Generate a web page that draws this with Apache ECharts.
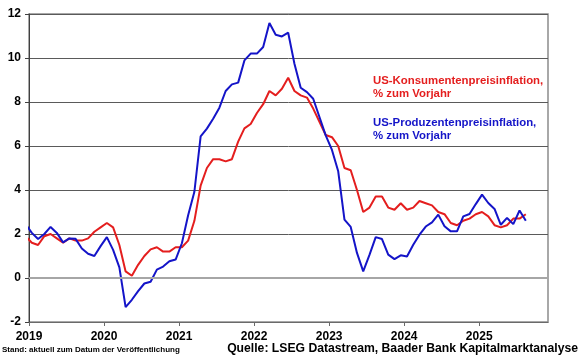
<!DOCTYPE html>
<html><head><meta charset="utf-8">
<script src="https://cdn.jsdelivr.net/npm/echarts@6/dist/echarts.min.js"></script>
<style>html,body{margin:0;padding:0;background:#fff}#c{width:580px;height:358px}</style>
</head><body><div id="c"></div>
<script>
// Monthly observations, Dec 2018 .. Aug 2025 (first point is clipped at the axis)
const firstMonth = [2018, 12];
const cpi = [1.9,
  1.6,1.5,1.9,2.0,1.8,1.6,1.8,1.7,1.7,1.8,2.1,2.3,
  2.5,2.3,1.5,0.3,0.1,0.6,1.0,1.3,1.4,1.2,1.2,1.4,
  1.4,1.7,2.6,4.2,5.0,5.4,5.4,5.3,5.4,6.2,6.8,7.0,
  7.5,7.9,8.5,8.3,8.6,9.1,8.5,8.3,8.2,7.7,7.1,6.5,
  6.4,6.0,5.0,4.9,4.0,3.0,3.2,3.7,3.7,3.2,3.1,3.4,
  3.1,3.2,3.5,3.4,3.3,3.0,2.9,2.5,2.4,2.6,2.7,2.9,
  3.0,2.8,2.4,2.3,2.4,2.7,2.7,2.9];
const ppi = [2.45,
  2.05,1.77,2.0,2.32,2.05,1.62,1.8,1.78,1.34,1.1,1.0,1.45,
  1.86,1.28,0.48,-1.32,-0.99,-0.6,-0.25,-0.17,0.38,0.52,0.76,0.84,
  1.58,2.85,3.92,6.44,6.79,7.24,7.74,8.5,8.8,8.88,9.89,10.2,
  10.2,10.5,11.59,11.06,10.98,11.15,9.74,8.65,8.45,8.15,7.32,6.48,
  5.82,4.85,2.65,2.32,1.14,0.3,1.05,1.86,1.77,1.06,0.86,1.03,
  0.98,1.51,1.97,2.34,2.53,2.88,2.35,2.12,2.12,2.8,2.91,3.36,
  3.79,3.41,3.14,2.42,2.73,2.45,3.07,2.6];
const yearLabels = ['2019','2020','2021','2022','2023','2024','2025'];
const yTicks = [-2,0,2,4,6,8,10,12];
const cpiName = 'US-Konsumentenpreisinflation,\n% zum Vorjahr';
const ppiName = 'US-Produzentenpreisinflation,\n% zum Vorjahr';
const footLeft = 'Stand: aktuell zum Datum der Veröffentlichung';
const footRight = 'Quelle: LSEG Datastream, Baader Bank Kapitalmarktanalyse';

// month -> decimal year (observation plotted within its month)
function monthPos(i){
  const y = firstMonth[0], m = firstMonth[1] - 1 + i;
  return y + (m + 0.45) / 12;
}
const cpiData = cpi.map((v,i)=>[monthPos(i), v]);
const ppiData = ppi.map((v,i)=>[monthPos(i), v]);

const FONT = 'Liberation Sans, Arial, sans-serif';
const RED = '#e41e1e', BLUE = '#1414c8';
const chart = echarts.init(document.getElementById('c'), null, {renderer:'canvas'});
const splitColors = yTicks.map(t => t === 0 ? 'rgba(0,0,0,0)' : '#5a5a5a');
chart.setOption({
  animation:false,
  backgroundColor:'#fff',
  grid:{left:29, right:32, top:14, bottom:36, show:true, borderColor:'#8c8c8c', borderWidth:1.5, backgroundColor:'transparent'},
  xAxis:{type:'value', min:+yearLabels[0], max:+yearLabels[0] + 83/12, interval:1,
    axisLine:{onZero:false, lineStyle:{color:'#6a6a6a', width:1}},
    axisTick:{show:true, length:4, lineStyle:{color:'#6a6a6a'}},
    splitLine:{show:false},
    axisLabel:{showMaxLabel:false, margin:9, color:'#000', fontFamily:FONT, fontWeight:'bold', fontSize:12,
      formatter: v => { const s = String(Math.round(v)); return (Math.abs(v-Math.round(v))<1e-6 && yearLabels.includes(s)) ? s : ''; }}
  },
  yAxis:{type:'value', min:yTicks[0], max:yTicks[yTicks.length-1], interval:2,
    axisLine:{show:true, lineStyle:{color:'#404040', width:1}},
    axisTick:{show:true, length:4, lineStyle:{color:'#404040'}},
    splitLine:{show:true, lineStyle:{color:splitColors, width:1}},
    axisLabel:{margin:8, color:'#000', fontFamily:FONT, fontWeight:'bold', fontSize:12}
  },
  series:[
    {type:'line', data:[], z:1, silent:true,
      markLine:{silent:true, symbol:['none','none'], label:{show:false},
        lineStyle:{color:'#a6a6a6', width:2, type:'solid'}, data:[{yAxis:0}]}},
    {name:'CPI', type:'line', data:cpiData, showSymbol:false, z:3,
      lineStyle:{color:RED, width:2}, itemStyle:{color:RED}},
    {name:'PPI', type:'line', data:ppiData, showSymbol:false, z:4,
      lineStyle:{color:BLUE, width:2}, itemStyle:{color:BLUE}}
  ],
  graphic:[
    {type:'text', left:373, top:74, style:{text:cpiName, fill:RED, font:'bold 11.4px '+FONT, lineHeight:13}},
    {type:'text', left:373, top:116, style:{text:ppiName, fill:BLUE, font:'bold 11.4px '+FONT, lineHeight:13}},
    {type:'text', left:2, top:346, style:{text:footLeft, fill:'#000', font:'bold 8px '+FONT}},
    {type:'text', right:2, top:343, style:{text:footRight, fill:'#000', font:'bold 12.2px '+FONT}}
  ]
});
</script></body></html>
